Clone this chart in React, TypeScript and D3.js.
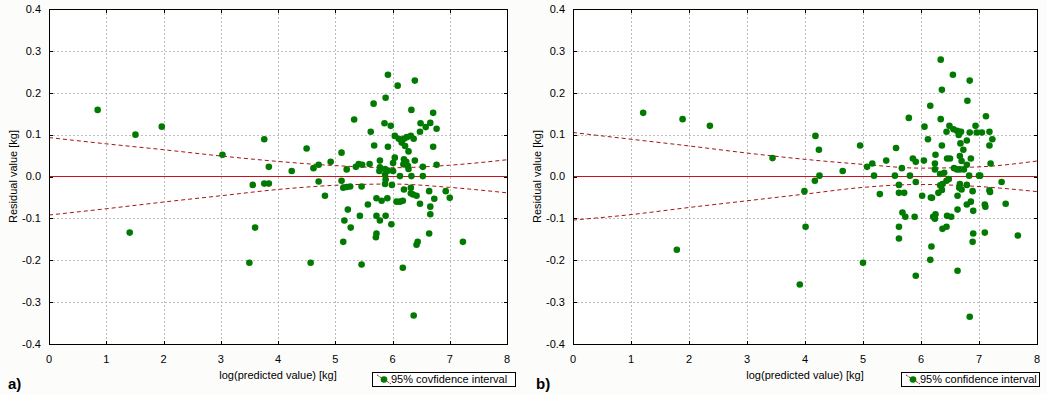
import React from "react";
import * as d3 from "d3";

// ---------- data ----------
const xTicks = [0, 1, 2, 3, 4, 5, 6, 7, 8];
const yTicks = [0.4, 0.3, 0.2, 0.1, 0.0, -0.1, -0.2, -0.3, -0.4];

// confidence band read at integer x positions
const ciX = [0, 1, 2, 3, 4, 5, 6, 7, 8];
const aUpper = [0.093, 0.078, 0.064, 0.049, 0.036, 0.026, 0.021, 0.027, 0.040];
const aLower = [-0.092, -0.077, -0.061, -0.046, -0.031, -0.021, -0.018, -0.026, -0.039];
const bUpper = [0.105, 0.089, 0.073, 0.056, 0.041, 0.029, 0.020, 0.023, 0.037];
const bLower = [-0.104, -0.091, -0.074, -0.058, -0.042, -0.026, -0.019, -0.024, -0.036];

// panel a: log(predicted value), residual
const aX = [
  0.85, 1.51, 1.97, 3.03, 3.76, 3.84, 4.24, 3.56, 3.76, 3.84, 1.41, 3.60, 3.50,
  5.92, 6.39, 6.09, 5.88, 5.67, 6.33, 6.71, 5.33, 5.86, 5.97, 6.49, 6.66, 6.58, 6.77, 6.48, 5.62,
  6.04, 6.11, 6.20, 6.25, 6.32, 6.37, 6.16, 6.22, 6.28, 5.68, 5.92, 6.71, 4.50, 5.11, 6.04, 6.39,
  4.92, 5.78, 6.20, 6.24, 6.19, 6.27, 6.01, 5.41, 5.47, 5.60, 4.71, 4.62, 5.36, 5.20,
  5.78, 5.77, 5.87, 5.92, 6.01, 6.28, 6.53, 6.77, 6.13, 6.33, 6.53, 5.87, 5.88, 5.87, 5.99,
  5.11, 4.71, 5.14, 5.20, 5.26, 5.46, 4.82, 6.20, 6.32, 6.64, 6.93, 7.00, 6.32, 6.36, 6.42,
  6.73, 5.72, 5.81, 5.91, 6.07, 6.13, 6.18, 6.48, 6.66, 6.66, 5.57, 5.22, 5.43, 5.72, 5.88,
  5.16, 5.78, 5.98, 5.27, 6.64, 5.72, 5.71, 5.14, 6.42, 6.44, 7.23, 4.57, 5.46, 6.18, 6.37,
];
const aY = [
  0.159, 0.100, 0.119, 0.052, 0.089, 0.023, 0.013, -0.020, -0.017, -0.017, -0.134, -0.122, -0.206,
  0.243, 0.229, 0.217, 0.188, 0.174, 0.159, 0.152, 0.136, 0.127, 0.121, 0.127, 0.128, 0.118, 0.114, 0.107, 0.107,
  0.097, 0.090, 0.090, 0.094, 0.097, 0.090, 0.081, 0.073, 0.060, 0.074, 0.071, 0.071, 0.067, 0.057, 0.045, 0.038,
  0.035, 0.038, 0.041, 0.035, 0.029, 0.025, 0.032, 0.030, 0.028, 0.030, 0.028, 0.020, 0.023, 0.017,
  0.022, 0.013, 0.018, 0.014, 0.013, 0.018, 0.023, 0.028, 0.001, 0.001, 0.001, 0.004, -0.007, -0.018, -0.020,
  -0.010, -0.012, -0.027, -0.025, -0.024, -0.024, -0.046, -0.031, -0.027, -0.035, -0.035, -0.051, -0.040, -0.043, -0.046,
  -0.053, -0.052, -0.058, -0.052, -0.060, -0.060, -0.058, -0.065, -0.072, -0.090, -0.067, -0.079, -0.094, -0.094, -0.094,
  -0.105, -0.105, -0.114, -0.122, -0.136, -0.136, -0.145, -0.156, -0.163, -0.156, -0.156, -0.206, -0.210, -0.218, -0.332,
];

// panel b
const bX = [
  1.21, 1.89, 2.36, 3.44, 3.99, 4.01, 1.79, 3.91,
  6.34, 6.55, 6.84, 6.36, 6.80, 6.16, 7.12, 5.79, 6.34, 6.94, 6.49, 6.06,
  6.44, 6.56, 6.62, 6.66, 6.69, 6.65,
  6.84, 6.96, 7.05, 7.18, 4.18, 7.23, 6.12, 6.79, 6.68, 7.18, 6.36, 4.95, 5.57, 4.24, 6.73, 6.25, 6.67,
  5.86, 5.91, 6.05, 6.45, 6.50, 6.86, 5.40, 6.70, 7.20, 6.24, 6.79, 5.16, 5.07, 4.65, 5.67, 6.57, 6.62,
  6.67, 6.74, 6.24, 6.40, 6.33, 4.25, 5.19, 5.55, 5.81, 6.83, 7.00, 7.02, 4.17, 6.48, 6.44, 7.39, 5.91,
  5.62, 6.67, 6.79, 6.37, 6.33, 6.70, 6.66, 6.89, 7.18, 7.19, 5.62, 5.71, 5.29, 6.63, 6.02, 6.17, 6.19,
  6.30, 6.36, 6.86, 6.79, 7.10, 7.11, 7.46, 6.63, 6.90, 5.68, 5.73, 5.89, 6.21, 6.25, 6.24, 6.45, 6.52,
  5.62, 6.37, 6.44, 5.62, 6.90, 6.89, 7.10, 7.67, 6.18, 5.00, 6.16, 6.63, 5.91, 6.84,
];
const bY = [
  0.152, 0.137, 0.121, 0.044, -0.035, -0.120, -0.175, -0.258,
  0.279, 0.243, 0.229, 0.207, 0.181, 0.169, 0.144, 0.140, 0.137, 0.121, 0.121, 0.119,
  0.107, 0.113, 0.109, 0.107, 0.107, 0.099,
  0.105, 0.105, 0.105, 0.107, 0.097, 0.089, 0.089, 0.086, 0.079, 0.074, 0.074, 0.074, 0.068, 0.064, 0.064, 0.052, 0.049,
  0.043, 0.035, 0.038, 0.043, 0.043, 0.043, 0.038, 0.037, 0.031, 0.031, 0.028, 0.031, 0.023, 0.013, 0.020, 0.020, 0.017,
  0.017, 0.017, 0.017, 0.009, 0.006, 0.002, 0.002, 0.002, 0.002, 0.002, 0.002, 0.002, -0.010, -0.006, -0.010, -0.013, -0.013,
  -0.020, -0.018, -0.020, -0.018, -0.021, -0.031, -0.027, -0.035, -0.033, -0.037, -0.039, -0.039, -0.042, -0.046, -0.046, -0.050, -0.051,
  -0.039, -0.032, -0.060, -0.067, -0.067, -0.072, -0.065, -0.079, -0.082, -0.086, -0.096, -0.096, -0.096, -0.090, -0.101, -0.094, -0.096,
  -0.120, -0.125, -0.120, -0.148, -0.136, -0.156, -0.134, -0.141, -0.167, -0.206, -0.199, -0.225, -0.237, -0.335,
];

const xTitle = "log(predicted value) [kg]";
const yTitle = "Residual value [kg]";

// ---------- styles ----------
const FONT = "'Liberation Sans', Arial, sans-serif";
const GREEN = "#007a00";
const RED = "#c8141e";
const DARKRED = "#a51515";

type PanelProps = {
  left: number;
  right: number;
  top: number;
  bottom: number;
  xs: number[];
  ys: number[];
  upper: number[];
  lower: number[];
  letter: string;
  letterX: number;
  yTitleX: number;
  legendText: string;
  legendX: number;
  legendW: number;
};

function Panel(p: PanelProps) {
  const x = d3.scaleLinear().domain([0, 8]).range([p.left, p.right]);
  const y = d3.scaleLinear().domain([-0.4, 0.4]).range([p.bottom, p.top]);
  const line = d3
    .line<number>()
    .x((_, i) => x(ciX[i]))
    .y((d) => y(d))
    .curve(d3.curveMonotoneX);
  const legendY = 372;
  const legendH = 14;
  const zeroY = Math.floor(y(0)) + 0.5;
  return (
    <g>
      <rect x={p.left} y={p.top} width={p.right - p.left} height={p.bottom - p.top} fill="#ffffff" />
      {/* grid */}
      {xTicks.slice(1, -1).map((t) => (
        <line key={"gx" + t} x1={Math.round(x(t)) + 0.5} x2={Math.round(x(t)) + 0.5} y1={p.top} y2={p.bottom}
          stroke="#bdbdbd" strokeDasharray="2,2" />
      ))}
      {yTicks.slice(1, -1).filter((t) => t !== 0).map((t) => (
        <line key={"gy" + t} y1={Math.round(y(t)) + 0.5} y2={Math.round(y(t)) + 0.5} x1={p.left} x2={p.right}
          stroke="#bdbdbd" strokeDasharray="2,2" />
      ))}
      {/* confidence lines */}
      <path d={line(p.upper) || ""} fill="none" stroke={DARKRED} strokeWidth={1} strokeDasharray="4,3" />
      <path d={line(p.lower) || ""} fill="none" stroke={DARKRED} strokeWidth={1} strokeDasharray="4,3" />
      {/* zero line */}
      <line x1={p.left} x2={p.right} y1={zeroY} y2={zeroY} stroke={RED} strokeWidth={1} />
      {/* points */}
      {p.xs.map((v, i) => (
        <circle key={"pt" + i} cx={x(v)} cy={y(p.ys[i])} r={3.3} fill={GREEN} />
      ))}
      {/* frame */}
      <rect x={p.left + 0.5} y={p.top + 0.5} width={p.right - p.left} height={p.bottom - p.top}
        fill="none" stroke="#000" strokeWidth={1} />
      {/* ticks */}
      {yTicks.map((t) => (
        <g key={"ty" + t}>
          <line x1={p.left} x2={p.left + 4} y1={Math.round(y(t)) + 0.5} y2={Math.round(y(t)) + 0.5} stroke="#000" />
          <line x1={p.right - 3} x2={p.right + 1} y1={Math.round(y(t)) + 0.5} y2={Math.round(y(t)) + 0.5} stroke="#000" />
          <text x={p.left - 8} y={y(t)} dy="0.35em" textAnchor="end" fontSize={11} fontFamily={FONT} fill="#000">
            {t.toFixed(1)}
          </text>
        </g>
      ))}
      {xTicks.map((t) => (
        <g key={"tx" + t}>
          <line x1={Math.round(x(t)) + 0.5} x2={Math.round(x(t)) + 0.5} y1={p.bottom - 3} y2={p.bottom + 1} stroke="#000" />
          <line x1={Math.round(x(t)) + 0.5} x2={Math.round(x(t)) + 0.5} y1={p.top} y2={p.top + 4} stroke="#000" />
          <text x={x(t)} y={p.bottom + 15} dy="0.35em" textAnchor="middle" fontSize={11} fontFamily={FONT} fill="#000">
            {t}
          </text>
        </g>
      ))}
      {/* axis titles */}
      <text x={(p.left + p.right) / 2} y={375} dy="0.35em" textAnchor="middle" fontSize={11} fontFamily={FONT}>
        {xTitle}
      </text>
      <text transform={`translate(${p.yTitleX},${(p.top + p.bottom) / 2}) rotate(-90)`} dy="0.35em"
        textAnchor="middle" fontSize={11} fontFamily={FONT}>
        {yTitle}
      </text>
      {/* panel letter */}
      <text x={p.letterX} y={384} dy="0.35em" fontSize={15} fontWeight="bold" fontFamily={FONT}>
        {p.letter}
      </text>
      {/* legend */}
      <rect x={p.legendX + 0.5} y={legendY + 0.5} width={p.legendW} height={legendH} fill="#fff" stroke="#000" />
      <line x1={p.legendX + 5} y1={legendY + 3} x2={p.legendX + 19} y2={legendY + 12}
        stroke={DARKRED} strokeDasharray="2,1" />
      <circle cx={p.legendX + 12} cy={legendY + 7.5} r={3.3} fill={GREEN} />
      <text x={p.legendX + 19} y={legendY + 7.5} dy="0.35em" fontSize={11} fontFamily={FONT}>
        {p.legendText}
      </text>
    </g>
  );
}

export default function App() {
  return (
    <svg width={1047} height={394} style={{ position: "absolute", left: 0, top: 0, background: "#fcfcfb" }}>
      <rect x={0} y={0} width={1047} height={394} fill="#fcfcfb" />
      <Panel left={49} right={507} top={9} bottom={344} xs={aX} ys={aY} upper={aUpper} lower={aLower}
        letter="a)" letterX={8} yTitleX={13} legendText="95% covfidence interval" legendX={372} legendW={143} />
      <Panel left={573} right={1037} top={9} bottom={344} xs={bX} ys={bY} upper={bUpper} lower={bLower}
        letter="b)" letterX={536} yTitleX={537} legendText="95% confidence interval" legendX={901} legendW={138} />
    </svg>
  );
}
